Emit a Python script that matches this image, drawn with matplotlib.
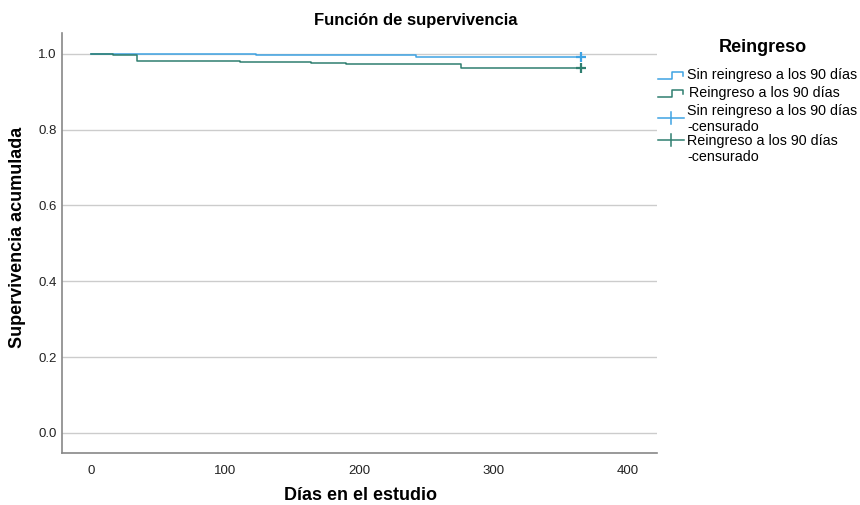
import matplotlib
matplotlib.use("Agg")
import matplotlib.pyplot as plt
from matplotlib.lines import Line2D

plt.rcParams['font.family'] = ['Liberation Sans', 'DejaVu Sans']

# Kaplan-Meier step data (time, survival)
t_sin = [0, 123, 242, 365]
s_sin = [1.0, 0.997, 0.991, 0.991]
t_re = [0, 16, 34, 111, 164, 190, 276, 365]
s_re = [1.0, 0.996, 0.982, 0.979, 0.976, 0.972, 0.963, 0.963]
cens_t_sin = [365]
cens_s_sin = [0.991]
cens_t_re = [365]
cens_s_re = [0.963]

xticks = [0, 100, 200, 300, 400]
yticks = [0.0, 0.2, 0.4, 0.6, 0.8, 1.0]

labels = ["Sin reingreso a los 90 días", "Reingreso a los 90 días",
          "Sin reingreso a los 90 días\n-censurado", "Reingreso a los 90 días\n-censurado"]

c_sin = '#3fa3e3'
c_re = '#2f7f70'

fig = plt.figure(figsize=(8.6, 5.05), dpi=100)
ax = fig.add_axes([62/860, 1-453/505, (657-62)/860, (453-33)/505])

for y in yticks:
    ax.axhline(y, color='#cccccc', lw=1.0, zorder=0)

ax.step(t_sin, s_sin, where='post', color=c_sin, lw=1.1)
ax.step(t_re, s_re, where='post', color=c_re, lw=1.1)
ax.plot(cens_t_sin, cens_s_sin, marker='+', ms=7, mew=1.6, color=c_sin, ls='none')
ax.plot(cens_t_re, cens_s_re, marker='+', ms=7, mew=1.6, color=c_re, ls='none')

ax.set_xlim(-22, 422)
ax.set_ylim(-0.053, 1.055)
ax.set_xticks(xticks)
ax.set_xticklabels([str(v) for v in xticks])
ax.set_yticks(yticks)
ax.set_yticklabels([f"{v:.1f}" for v in yticks])
ax.tick_params(length=0, labelsize=9.5, pad=4, colors='#222222')
ax.tick_params(axis='x', pad=9)
for s in ['top', 'right']:
    ax.spines[s].set_visible(False)
for s in ['left', 'bottom']:
    ax.spines[s].set_color('#888888')
    ax.spines[s].set_linewidth(1.2)

fig.text(416/860, 1-20/505, "Función de supervivencia", ha='center', va='center',
         fontsize=12, fontweight='bold')
fig.text(361/860, 1-496/505, "Días en el estudio", ha='center', va='center',
         fontsize=13, fontweight='bold')
fig.text(18/860, 1-237/505, "Supervivencia acumulada", ha='center', va='center',
         fontsize=13, fontweight='bold', rotation=90)

# Legend (manual, figure pixel coords)
def fx(px):
    return px/860
def fy(py):
    return 1-py/505

fig.text(fx(763), fy(47), "Reingreso", ha='center', va='center', fontsize=13, fontweight='bold')

def step_icon(yc, color):
    xs = [658, 672, 672, 683, 683]
    ys = [yc+4, yc+4, yc-3, yc-3, yc+1]
    fig.add_artist(Line2D([fx(v) for v in xs], [fy(v) for v in ys], color=color, lw=1.1))

def cross_icon(yc, color):
    fig.add_artist(Line2D([fx(658), fx(684)], [fy(yc), fy(yc)], color=color, lw=1.1))
    fig.add_artist(Line2D([fx(671), fx(671)], [fy(yc-6), fy(yc+6)], color=color, lw=1.1))

fs = 10.3
step_icon(75, c_sin)
fig.text(fx(687), fy(75), labels[0], ha='left', va='center', fontsize=fs)
step_icon(93, c_re)
fig.text(fx(689), fy(93), labels[1], ha='left', va='center', fontsize=fs)
cross_icon(118, c_sin)
fig.text(fx(687), fy(119), labels[2], ha='left', va='center', fontsize=fs, linespacing=1.1)
cross_icon(140, c_re)
fig.text(fx(687), fy(149), labels[3], ha='left', va='center', fontsize=fs, linespacing=1.1)

fig.savefig("out.png", dpi=100, facecolor='white')
